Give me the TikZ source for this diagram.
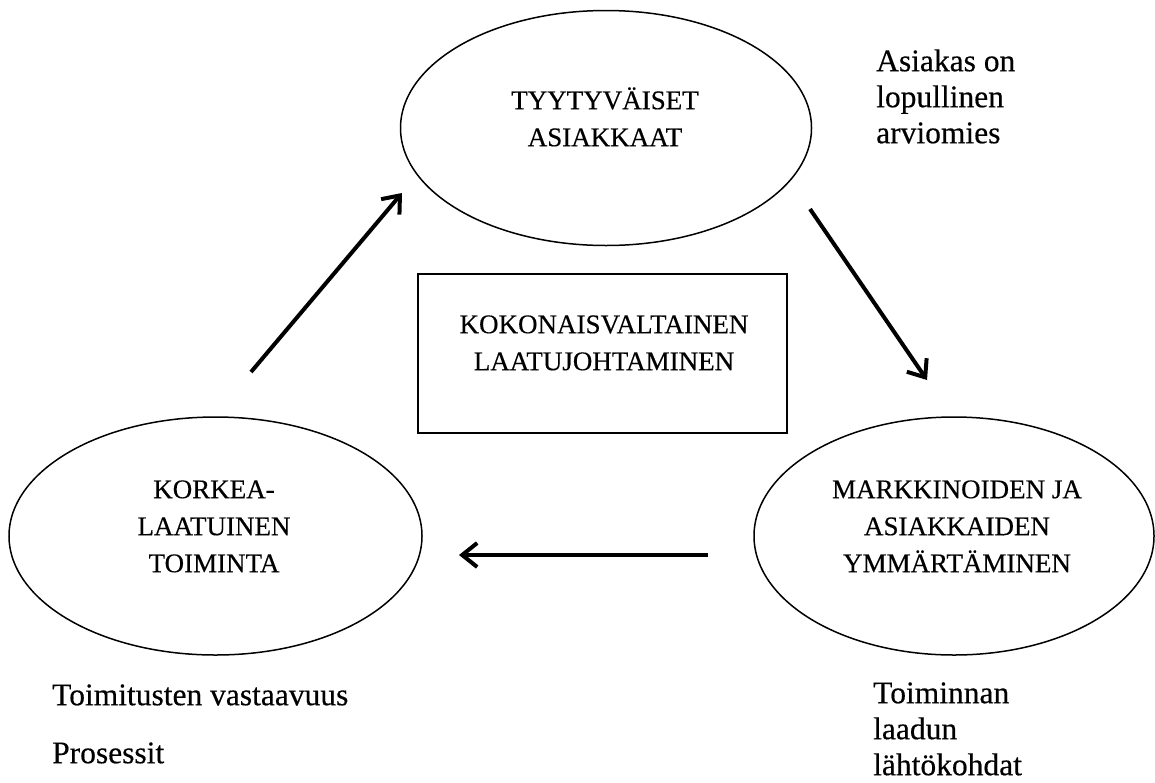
\documentclass[tikz,border=0pt]{standalone}
\usepackage{fontspec}
\setmainfont{Liberation Serif}[FakeBold=0.35]
\usetikzlibrary{arrows.meta,shapes.geometric}
\tikzset{
  oval/.style={draw=black, line width=1.5pt, ellipse, inner sep=0pt},
  boxshape/.style={draw=black, line width=1.8pt, inner sep=0pt},
  captext/.style={anchor=north, inner sep=0pt, align=center, font=\fontsize{27}{37}\selectfont},
  sidetext/.style={anchor=north west, inner sep=0pt, align=left, font=\fontsize{31.5}{36}\selectfont},
  bigarrow/.style={line width=4pt, -{Straight Barb[length=15pt,width=24pt,line width=4pt]}}
}
\newcommand{\capstrut}{\rule{0pt}{27pt}}
\newcommand{\sidestrut}{\rule{0pt}{29pt}}
\begin{document}
\begin{tikzpicture}[x=1pt,y=-1pt]
\useasboundingbox[fill=white] (0,0) rectangle (1155,782);
% shapes
\node[oval, minimum width=411pt, minimum height=235pt] (top) at (606,128) {};
\node[oval, minimum width=413pt, minimum height=238pt] (left) at (215.5,536) {};
\node[oval, minimum width=400pt, minimum height=238pt] (right) at (954,536) {};
\node[boxshape, minimum width=369pt, minimum height=159pt] (center) at (602.5,353.5) {};
% texts
\node[captext] (toptext) at (605,82) {\capstrut TYYTYVÄISET\\ASIAKKAAT};
\node[captext] (centertext) at (604,306) {\capstrut KOKONAISVALTAINEN\\LAATUJOHTAMINEN};
\node[captext] (lefttext) at (214,471) {\capstrut KORKEA-\\LAATUINEN\\TOIMINTA};
\node[captext] (righttext) at (957,471) {\capstrut MARKKINOIDEN JA\\ASIAKKAIDEN\\YMMÄRTÄMINEN};
\node[sidetext] (note1) at (876,42) {\sidestrut Asiakas on\\lopullinen\\arviomies};
\node[sidetext] (note2) at (52,676) {\sidestrut Toimitusten vastaavuus\\[22pt]Prosessit};
\node[sidetext] (note3) at (873,674) {\sidestrut Toiminnan\\laadun\\lähtökohdat};
% arrows
\coordinate (a1s) at (251,372);
\coordinate (a1e) at (402,193);
\coordinate (a2s) at (810,209);
\coordinate (a2e) at (927,380);
\coordinate (a3s) at (708,555);
\coordinate (a3e) at (459,555);
\draw[bigarrow] (a1s) -- (a1e);
\draw[bigarrow] (a2s) -- (a2e);
\draw[bigarrow] (a3s) -- (a3e);
\end{tikzpicture}
\end{document}
